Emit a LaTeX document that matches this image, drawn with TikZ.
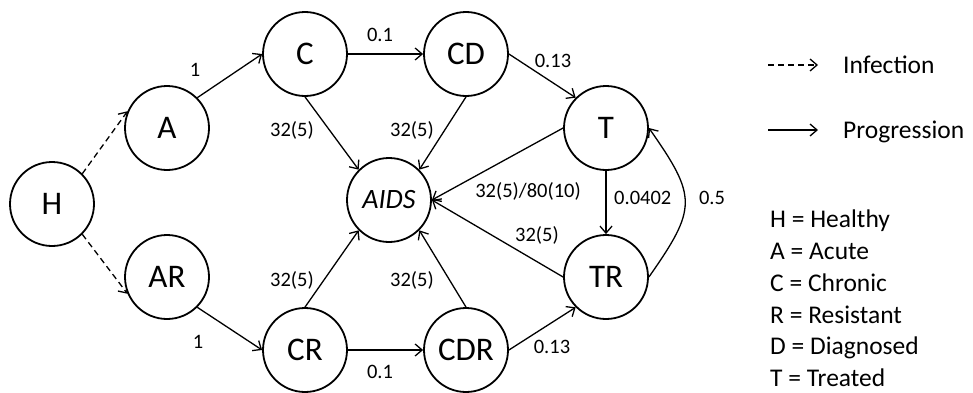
\documentclass[tikz,border=0pt]{standalone}
\usepackage{fontspec}
\setmainfont{Carlito}
\usetikzlibrary{arrows.meta}
\pgfdeclarelayer{edgelayer}
\pgfdeclarelayer{nodelayer}
\pgfsetlayers{edgelayer,nodelayer,main}
\tikzstyle{none} = [inner sep=0pt]
\tikzstyle{state} = [circle, draw, fill=white, line width=1.8pt, minimum size=84pt, inner sep=0pt, font=\fontsize{33}{33}\selectfont]
\tikzstyle{rate} = [inner sep=0pt, font=\fontsize{20.5}{21}\selectfont]
\tikzstyle{keytext} = [inner sep=0pt, anchor=base west, font=\fontsize{25.5}{26}\selectfont]
\tikzstyle{progression} = [line width=1.3pt, -{Straight Barb[length=7pt,width=12pt]}]
\tikzstyle{infection} = [progression, dash pattern=on 6pt off 4pt]

\begin{document}
\begin{tikzpicture}[x=1pt, y=1pt]
	\useasboundingbox (0, 0) rectangle (973, 392);
	\begin{pgfonlayer}{nodelayer}
		\node [style=state] (H) at (52, 188) {H};
		\node [style=state] (A) at (167, 264) {A};
		\node [style=state] (AR) at (167, 115) {AR};
		\node [style=state] (C) at (305, 338) {C};
		\node [style=state] (CD) at (466, 338) {CD};
		\node [style=state, font=\fontsize{28}{28}\selectfont\itshape] (AIDS) at (389, 192) {AIDS};
		\node [style=state] (CR) at (305, 42) {CR};
		\node [style=state] (CDR) at (466, 42) {CDR};
		\node [style=state] (T) at (606, 264) {T};
		\node [style=state] (TR) at (606, 115) {TR};
		\node [style=rate] (0) at (195, 322) {1};
		\node [style=rate] (1) at (380, 357) {0.1};
		\node [style=rate] (2) at (292, 262) {32(5)};
		\node [style=rate] (3) at (412, 262) {32(5)};
		\node [style=rate] (4) at (553, 331) {0.13};
		\node [style=rate] (5) at (528, 201) {32(5)/80(10)};
		\node [style=rate, anchor=west] (6) at (614, 194) {0.0402};
		\node [style=rate] (7) at (712, 194) {0.5};
		\node [style=rate] (8) at (537, 157) {32(5)};
		\node [style=rate] (9) at (552, 45) {0.13};
		\node [style=rate] (10) at (198, 50) {1};
		\node [style=rate] (11) at (292, 112) {32(5)};
		\node [style=rate] (12) at (412, 112) {32(5)};
		\node [style=rate] (13) at (380, 20) {0.1};
		\coordinate (14) at (768, 327);
		\coordinate (15) at (818, 327);
		\coordinate (16) at (768, 262);
		\coordinate (17) at (818, 262);
		\node [style=keytext] (18) at (843, 319) {Infection};
		\node [style=keytext] (19) at (843, 254) {Progression};
		\node [style=keytext] (20) at (770, 165) {H = Healthy};
		\node [style=keytext] (21) at (770, 133) {A = Acute};
		\node [style=keytext] (22) at (770, 101) {C = Chronic};
		\node [style=keytext] (23) at (770, 69) {R = Resistant};
		\node [style=keytext] (24) at (770, 38) {D = Diagnosed};
		\node [style=keytext] (25) at (770, 6) {T = Treated};
	\end{pgfonlayer}
	\begin{pgfonlayer}{edgelayer}
		\draw [style=infection] (H.45) to (A.157);
		\draw [style=infection] (H.-45) to (AR.203);
		\draw [style=progression] (A.45) to (C.west);
		\draw [style=progression] (AR.-45) to (CR.west);
		\draw [style=progression] (C.east) to (CD.west);
		\draw [style=progression] (CR.east) to (CDR.west);
		\draw [style=progression] (C.south) to (AIDS.135);
		\draw [style=progression] (CD.south) to (AIDS.45);
		\draw [style=progression] (CR.north) to (AIDS.225);
		\draw [style=progression] (CDR.north) to (AIDS.-45);
		\draw [style=progression] (CD.east) to (T.135);
		\draw [style=progression] (CDR.east) to (TR.225);
		\draw [style=progression] (T.west) to (AIDS.east);
		\draw [style=progression] (TR.west) to (AIDS.east);
		\draw [style=progression] (T.south) to (TR.north);
		\draw [style=progression, out=55, in=-55, looseness=1.45] (TR.east) to (T.east);
		\draw [style=infection] (14) to (15);
		\draw [style=progression] (16) to (17);
	\end{pgfonlayer}
\end{tikzpicture}
\end{document}
